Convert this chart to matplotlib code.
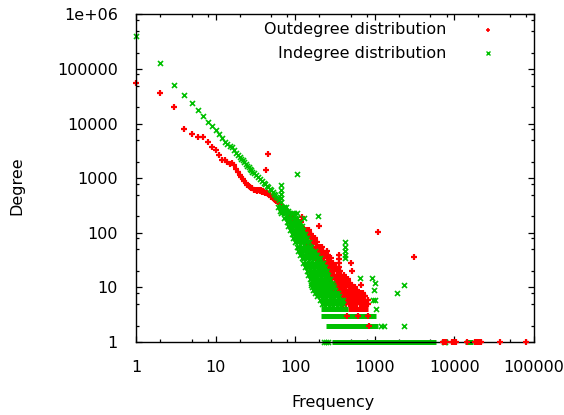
import matplotlib
matplotlib.use('Agg')
import matplotlib.pyplot as plt
from matplotlib.ticker import LogLocator, NullFormatter, FixedLocator, FixedFormatter

# ---- outdegree (red) ----
# the clean part of the curve, one count per degree
out_x = [1, 2, 3, 4, 5, 6, 7, 8, 9, 10, 11, 12, 13, 14, 15, 16, 17, 18, 19, 20,
         21, 22, 23, 24, 25, 26, 27, 28, 29, 30, 31, 32, 33, 34, 35, 36, 37, 38,
         39, 40, 41, 42, 43, 44, 45, 46, 47, 48, 50, 52, 54, 56, 58, 60, 62, 64,
         66, 68, 70, 72, 74, 77, 80, 83, 86, 89, 92, 95, 98]
out_y = [56000, 36800, 19900, 8100, 6400, 5600, 5600, 4700, 3800, 3300, 2700,
         2200, 2150, 1950, 1850, 1880, 1750, 1500, 1300, 1150, 1050, 950, 880,
         810, 760, 720, 700, 660, 650, 620, 600, 610, 590, 610, 600, 580, 600,
         570, 590, 560, 570, 540, 1410, 530, 2750, 510, 500, 490, 460, 440, 420,
         400, 385, 370, 360, 345, 320, 300, 290, 275, 262, 250, 235, 225, 212,
         200, 190, 180, 170]
# the noisy cloud, read row by row (count -> degrees)
out_row_counts = [250, 200, 160, 130, 113, 95, 80, 67, 56, 47, 40, 34, 28, 24,
                  20, 17, 14, 12, 11, 10, 9, 8, 7, 6, 5]
out_row_degrees = [
    [75, 80],
    [84, 90, 95],
    [88, 94, 100, 106, 112, 118],
    [95, 101, 108, 115, 122],
    [104, 110, 117, 124, 132, 140, 150],
    [110, 118, 126, 134, 143, 152, 160],
    [120, 128, 137, 146, 156, 166, 178],
    [128, 137, 146, 156, 167, 178, 190],
    [139, 148, 158, 169, 180, 192, 205, 214],
    [150, 160, 171, 183, 195, 208, 222, 250],
    [165, 176, 188, 201, 215, 230, 245, 255],
    [178, 190, 203, 217, 232, 248, 265, 280],
    [194, 207, 221, 236, 252, 269, 285, 298, 500],
    [210, 224, 239, 255, 272, 290, 310, 330, 358],
    [225, 240, 256, 273, 291, 311, 332, 355, 370, 510],
    [240, 256, 273, 291, 311, 332, 355, 380, 405],
    [257, 274, 292, 312, 333, 355, 379, 404, 430, 460],
    [275, 293, 313, 334, 356, 380, 405, 432, 460, 490],
    [290, 310, 330, 352, 376, 401, 428, 456, 486, 520, 670],
    [300, 320, 341, 364, 388, 414, 441, 470, 501, 534, 560],
    [320, 341, 364, 388, 414, 441, 470, 501, 534, 568, 600],
    [332, 354, 378, 403, 430, 458, 488, 520, 555, 592, 630, 670, 715],
    [360, 384, 410, 437, 466, 497, 530, 565, 602, 642, 685, 730, 760],
    [400, 426, 454, 484, 516, 550, 586, 625, 666, 710, 757, 815],
    [400, 440, 469, 500, 533, 568, 605, 645, 688, 733, 781, 815],
]
out_extra_x = [121, 199, 358, 358, 358, 1107, 3110]
out_extra_y = [197, 135, 39, 33, 28, 105, 36]
# points sitting on the low-count bands
out_low_x = [444, 610, 815, 850, 7130, 7400, 7850, 9200, 9600, 10000, 10500,
             14300, 18100, 19000, 20000, 21000, 21700, 37400, 79400]
out_low_y = [3, 3, 3, 2, 1, 1, 1, 1, 1, 1, 1, 1, 1, 1, 1, 1, 1, 1, 1]
out_band_y = [4]
out_band_lo = [460]
out_band_hi = [815]

# ---- indegree (green) ----
in_x = [1, 2, 3, 4, 5, 6, 7, 8, 9, 10, 11, 12, 13, 14, 15, 16, 17, 18, 19, 20,
        21, 22, 23, 24, 25, 26, 27, 28, 29, 30, 32, 34, 36, 38, 40, 42, 44, 46,
        48, 50, 52, 54, 56, 58, 60, 62, 104]
in_y = [400000, 130000, 52000, 34000, 24000, 17700, 13800, 10800, 9000, 7600,
        6400, 5500, 4700, 4200, 3900, 3700, 3300, 2900, 2700, 2450, 2300, 2150,
        1950, 1800, 1700, 1600, 1500, 1410, 1300, 1250, 1150, 1050, 955, 900,
        820, 780, 720, 700, 640, 600, 560, 520, 490, 458, 430, 400, 1180]
in_row_counts = [750, 620, 520, 430, 360, 300, 250, 228, 190, 160, 135, 113,
                 95, 80, 67, 56, 47, 40, 34, 28, 24, 20, 17, 15, 14, 12, 11,
                 10, 9, 8, 7, 6, 5]
in_row_degrees = [
    [66],
    [66],
    [66],
    [66],
    [66],
    [60, 64, 68, 72, 76],
    [64, 68, 72, 77, 82],
    [67, 72, 77, 83, 90, 97, 104],
    [72, 78, 84, 91, 98, 105, 128],
    [78, 84, 91, 98, 106, 115],
    [82, 89, 96, 104, 112, 120],
    [86, 93, 100, 108, 116, 125],
    [90, 97, 105, 113, 122, 131],
    [95, 102, 110, 119, 129, 140],
    [100, 108, 117, 126, 136, 147, 420],
    [104, 112, 121, 131, 142, 153, 160, 420],
    [110, 119, 128, 139, 150, 162, 175, 420],
    [115, 124, 134, 145, 157, 170, 183, 190, 420],
    [120, 130, 140, 152, 164, 177, 192, 205, 420],
    [126, 136, 147, 159, 172, 186, 201, 217, 225],
    [133, 144, 156, 169, 182, 197, 213, 230, 240],
    [140, 151, 163, 176, 190, 205, 222, 240, 250],
    [146, 158, 171, 185, 200, 216, 233, 252, 262],
    [650, 910],
    [153, 165, 178, 192, 207, 224, 242, 261, 274],
    [156, 168, 181, 196, 212, 229, 247, 267, 288, 1000],
    [158, 171, 185, 200, 216, 233, 252, 272, 300, 2330],
    [162, 175, 189, 204, 220, 238, 257, 278, 305],
    [165, 178, 192, 207, 224, 242, 261, 282, 320, 985],
    [175, 189, 204, 220, 238, 257, 278, 300, 325, 340, 1890],
    [190, 205, 221, 239, 258, 279, 301, 325, 350],
    [205, 221, 239, 258, 279, 301, 325, 351, 379, 400, 955, 1000],
    [215, 232, 251, 271, 293, 316, 341, 370, 400],
]
in_extra_x = [195, 1030, 1200, 1300, 2350, 230, 245, 260, 7300, 7700]
in_extra_y = [205, 4, 2, 2, 2, 1, 1, 1, 1, 1]
in_band_y = [1, 1, 2, 3, 4]
in_band_lo = [292, 13600, 242, 211, 211]
in_band_hi = [5870, 17300, 1107, 1035, 460]

RED = '#ff0000'
GREEN = '#00c000'

plt.rcParams['font.family'] = 'DejaVu Sans'
plt.rcParams['font.size'] = 11.5

fig = plt.figure(figsize=(5.64, 4.15), dpi=100)
ax = fig.add_axes([136 / 564, 1 - 342 / 415, 398 / 564, 327.5 / 415])

red_kw = dict(ls='none', marker='+', ms=4.5, mew=1.6, color=RED, clip_on=False)
grn_kw = dict(ls='none', marker='x', ms=3.6, mew=1.2, color=GREEN, clip_on=False)

# red first
ax.plot(out_x, out_y, **red_kw)
for c, degs in zip(out_row_counts, out_row_degrees):
    ax.plot(degs, [c] * len(degs), **red_kw)
ax.plot(out_extra_x, out_extra_y, **red_kw)
ax.hlines(out_band_y, out_band_lo, out_band_hi, colors=RED, lw=3.6, clip_on=False)

# green on top
ax.plot(in_x, in_y, **grn_kw)
for c, degs in zip(in_row_counts, in_row_degrees):
    ax.plot(degs, [c] * len(degs), **grn_kw)
ax.plot(in_extra_x, in_extra_y, **grn_kw)
ax.hlines(in_band_y, in_band_lo, in_band_hi, colors=GREEN, lw=3.6, clip_on=False)

# a few red dots show through the green bands
ax.plot(out_low_x, out_low_y, zorder=3, **red_kw)

ax.set_xscale('log')
ax.set_yscale('log')
ax.set_xlim(1, 1e5)
ax.set_ylim(1, 1e6)

ax.xaxis.set_major_locator(FixedLocator([1, 10, 100, 1000, 10000, 100000]))
ax.xaxis.set_major_formatter(FixedFormatter(['1', '10', '100', '1000', '10000', '100000']))
ax.yaxis.set_major_locator(FixedLocator([1, 10, 100, 1000, 10000, 100000, 1e6]))
ax.yaxis.set_major_formatter(FixedFormatter(['1', '10', '100', '1000', '10000', '100000', '1e+06']))
ax.xaxis.set_minor_locator(LogLocator(base=10, subs=[2, 5, 8]))
ax.yaxis.set_minor_locator(LogLocator(base=10, subs=[2, 5, 8]))
ax.xaxis.set_minor_formatter(NullFormatter())
ax.yaxis.set_minor_formatter(NullFormatter())

ax.tick_params(which='both', direction='in', top=True, right=True, width=0.9)
ax.tick_params(which='major', length=4.5)
ax.tick_params(which='minor', length=2.2)
ax.tick_params(axis='y', which='major', pad=13)
ax.tick_params(axis='x', which='major', pad=13)
for s in ax.spines.values():
    s.set_linewidth(1.0)

ax.set_xlabel('Frequency')
ax.set_ylabel('Degree')
ax.xaxis.set_label_coords(0.495, -0.162)
ax.yaxis.set_label_coords(-0.281, 0.476)

# key, gnuplot style: right-justified text then the sample
ax.text(0.781, 0.953, 'Outdegree distribution', ha='right', va='center',
        transform=ax.transAxes)
ax.text(0.781, 0.882, 'Indegree distribution', ha='right', va='center',
        transform=ax.transAxes)
ax.plot([0.884], [0.953], marker='+', ms=3.5, mew=1.2, color=RED,
        transform=ax.transAxes, ls='none')
ax.plot([0.884], [0.882], marker='x', ms=3, mew=1.0, color=GREEN,
        transform=ax.transAxes, ls='none')

fig.savefig('out.png', dpi=100)
